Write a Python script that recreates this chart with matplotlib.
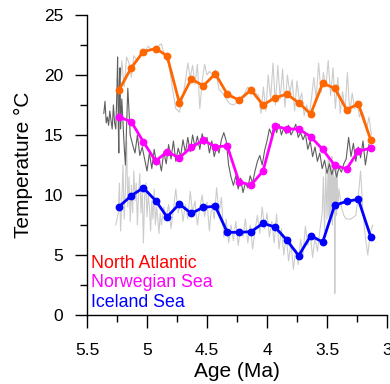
import matplotlib
matplotlib.use("Agg")
import matplotlib.pyplot as plt
from matplotlib.ticker import MultipleLocator

plt.rcParams['font.family'] = ['Liberation Sans', 'DejaVu Sans']

# smoothed records (points every ~0.1 Ma)
age_pts = [5.233, 5.131, 5.031, 4.928, 4.833, 4.731, 4.631, 4.531, 4.431, 4.331, 4.233,
           4.133, 4.033, 3.933, 3.836, 3.736, 3.636, 3.536, 3.436, 3.336, 3.239, 3.136]
na_pts = [18.75, 20.6, 21.94, 22.2, 21.6, 17.7, 19.67, 19.1, 20.1, 18.4, 17.9,
          18.75, 17.5, 18.1, 18.4, 17.7, 16.75, 19.3, 18.9, 17.1, 17.6, 14.6]
nw_pts = [16.5, 16.1, 14.44, 12.83, 13.6, 13.1, 13.97, 14.55, 14.03, 14.08, 11.1,
          10.83, 12.0, 15.75, 15.5, 15.5, 14.86, 13.8, 12.47, 12.17, 13.67, 13.89]
ic_pts = [9.03, 9.94, 10.6, 9.53, 8.17, 9.25, 8.47, 8.97, 9.06, 6.89, 6.89,
          6.94, 7.64, 7.33, 6.25, 4.94, 6.61, 6.08, 9.14, 9.47, 9.64, 6.53]

# high resolution records (grey)
na_age = [5.25, 5.23, 5.21, 5.19, 5.17, 5.15, 5.13, 5.11, 5.08, 5.05, 5.02, 4.99, 4.96,
          4.92, 4.88, 4.85, 4.82, 4.79, 4.76, 4.73, 4.70, 4.68, 4.66, 4.64, 4.62, 4.60,
          4.58, 4.56, 4.54, 4.52, 4.50, 4.48, 4.46, 4.43, 4.40, 4.37, 4.34, 4.31, 4.28,
          4.25, 4.22, 4.19, 4.16, 4.13, 4.10, 4.07, 4.05, 4.03, 4.01, 3.99, 3.97, 3.95,
          3.93, 3.91, 3.89, 3.87, 3.85, 3.83, 3.81, 3.79, 3.77, 3.75, 3.73, 3.71, 3.69,
          3.67, 3.65, 3.63, 3.61, 3.59, 3.57, 3.55, 3.53, 3.51, 3.49, 3.47, 3.45, 3.43,
          3.41, 3.39, 3.37, 3.35, 3.33, 3.31, 3.29, 3.27, 3.25, 3.23, 3.21, 3.19, 3.17,
          3.15, 3.13]
na_t = [19.6, 18.0, 21.2, 19.0, 21.5, 21.0, 19.8, 21.6, 21.2, 22.0, 21.9, 22.4, 22.1,
        22.3, 22.6, 21.4, 21.0, 19.0, 17.2, 16.9, 18.2, 19.5, 21.0, 19.8, 20.8, 19.2,
        20.9, 17.2, 19.5, 20.9, 20.0, 20.3, 20.1, 20.4, 18.8, 18.5, 18.0, 17.6, 17.5,
        17.7, 18.0, 18.4, 19.0, 18.6, 18.5, 18.3, 16.8, 19.0, 17.0, 20.0, 18.0, 21.0,
        17.5, 20.8, 18.0, 20.5, 17.3, 20.0, 18.5, 19.6, 17.0, 19.5, 17.8, 18.5, 16.6,
        17.5, 16.5, 18.0, 19.8, 18.0, 21.0, 18.5, 20.2, 19.0, 21.2, 18.3, 20.6, 17.2,
        19.8, 16.8, 18.6, 17.0, 20.2, 16.8, 18.5, 17.2, 17.8, 16.5, 17.0, 16.5, 15.5,
        16.5, 15.0]

nw_age = [5.36, 5.35, 5.34, 5.33, 5.32, 5.31, 5.30, 5.29, 5.28, 5.27, 5.26, 5.25, 5.245,
          5.24, 5.235, 5.23, 5.225, 5.22, 5.21, 5.20, 5.19, 5.18, 5.17, 5.16, 5.15, 5.14,
          5.12, 5.10, 5.08, 5.06, 5.04, 5.02, 5.00, 4.98, 4.96, 4.94, 4.92, 4.90, 4.88,
          4.86, 4.84, 4.82, 4.80, 4.78, 4.76, 4.74, 4.72, 4.70, 4.68, 4.66, 4.64, 4.62,
          4.60, 4.58, 4.56, 4.54, 4.52, 4.50, 4.48, 4.46, 4.44, 4.42, 4.40, 4.38, 4.36,
          4.34, 4.32, 4.30, 4.28, 4.26, 4.24, 4.22, 4.20, 4.18, 4.16, 4.14, 4.12, 4.10,
          4.08, 4.06, 4.04, 4.02, 4.00, 3.98, 3.96, 3.94, 3.92, 3.90, 3.88, 3.86, 3.84,
          3.82, 3.80, 3.78, 3.76, 3.74, 3.72, 3.70, 3.68, 3.66, 3.64, 3.62, 3.60, 3.58,
          3.56, 3.54, 3.52, 3.50, 3.48, 3.46, 3.44, 3.42, 3.40, 3.38, 3.36, 3.34, 3.32,
          3.30, 3.28, 3.26, 3.24, 3.22, 3.20, 3.18, 3.16, 3.15]
nw_t = [16.8, 17.8, 16.0, 16.5, 15.8, 17.0, 16.2, 15.5, 17.5, 16.0, 15.5, 19.0, 21.5,
        16.5, 13.5, 19.5, 20.6, 15.5, 18.0, 16.0, 14.0, 12.5, 15.8, 18.9, 17.0, 15.0,
        14.2, 13.5, 15.0, 13.3, 14.0, 13.0, 12.0, 13.5, 12.2, 13.8, 12.5, 13.0, 12.0,
        13.6, 12.6, 14.2, 13.0, 14.5, 12.8, 13.9, 13.2, 14.6, 13.5, 14.8, 13.6, 15.0,
        14.0, 14.9, 13.8, 15.1, 14.2, 14.8, 13.5, 14.5, 13.2, 14.0, 13.5, 14.6, 15.2,
        14.5, 12.5, 11.5, 10.8, 11.6, 10.5, 11.4, 10.2, 11.0, 10.6, 11.6, 11.0, 12.0,
        12.8, 13.3, 12.5, 13.7, 14.5, 15.5, 15.0, 15.8, 15.2, 15.9, 15.0, 15.6, 15.1,
        15.8, 15.0, 15.4, 15.9, 14.8, 15.2, 14.6, 15.1, 13.8, 14.5, 13.2, 14.0, 12.8,
        13.5, 12.2, 12.9, 11.8, 12.6, 11.7, 12.4, 11.5, 12.3, 11.9, 12.6, 13.0, 14.8,
        13.2, 14.3, 12.8, 14.0, 13.1, 14.5, 12.5, 13.8, 14.2]

ic_age = [5.26, 5.24, 5.23, 5.22, 5.21, 5.20, 5.19, 5.18, 5.17, 5.16, 5.15, 5.14, 5.13,
          5.12, 5.11, 5.10, 5.09, 5.08, 5.07, 5.06, 5.05, 5.04, 5.03, 5.02, 5.01, 5.00,
          4.99, 4.98, 4.97, 4.96, 4.95, 4.94, 4.93, 4.92, 4.91, 4.90, 4.89, 4.88, 4.86,
          4.84, 4.82, 4.80, 4.78, 4.76, 4.74, 4.72, 4.70, 4.68, 4.66, 4.64, 4.62, 4.60,
          4.58, 4.56, 4.54, 4.52, 4.50, 4.48, 4.46, 4.44, 4.42, 4.40, 4.38, 4.36, 4.34,
          4.32, 4.30, 4.28, 4.26, 4.24, 4.22, 4.20, 4.18, 4.16, 4.14, 4.12, 4.10, 4.08,
          4.06, 4.04, 4.02, 4.00, 3.98, 3.96, 3.94, 3.92, 3.90, 3.88, 3.86, 3.84, 3.82,
          3.80, 3.78, 3.76, 3.74, 3.72, 3.70, 3.68, 3.66, 3.64, 3.62, 3.60, 3.58, 3.56,
          3.54, 3.53, 3.52, 3.51, 3.50, 3.49, 3.485, 3.48, 3.475, 3.47, 3.465, 3.46,
          3.455, 3.45, 3.445, 3.44, 3.435, 3.43, 3.425, 3.42, 3.415, 3.41, 3.40, 3.38,
          3.36, 3.34, 3.30, 3.26, 3.24, 3.22, 3.20, 3.18, 3.16, 3.14, 3.12]
ic_t = [7.5, 8.5, 11.0, 7.0, 9.5, 12.5, 8.0, 10.5, 14.5, 9.0, 11.5, 7.8, 10.8,
        8.5, 12.0, 9.5, 11.0, 7.5, 10.2, 11.8, 8.5, 10.5, 6.0, 9.8, 11.0, 8.2,
        10.0, 9.0, 7.0, 9.5, 8.0, 10.5, 7.5, 9.0, 8.0, 6.8, 8.5, 7.5, 9.0,
        8.0, 9.2, 7.2, 8.8, 10.5, 8.5, 9.5, 7.8, 9.2, 8.0, 10.3, 8.5, 9.5,
        7.5, 8.9, 10.0, 8.2, 9.4, 7.0, 9.3, 8.0, 10.6, 8.5, 9.8, 6.5, 8.0,
        6.0, 7.5, 6.2, 7.8, 5.8, 7.2, 6.5, 8.0, 6.0, 7.5, 5.5, 7.0, 8.3,
        6.8, 9.0, 7.2, 8.5, 6.5, 7.8, 6.0, 8.4, 5.5, 7.2, 5.0, 6.6, 4.5,
        6.0, 3.8, 5.5, 4.2, 6.3, 5.0, 7.4, 5.8, 6.8, 4.8, 6.5, 5.3, 7.0,
        8.5, 11.5, 7.0, 12.0, 8.0, 13.0, 8.2, 12.8, 7.8, 12.5, 8.5, 13.2,
        7.5, 12.0, 8.8, 11.5, 1.8, 9.5, 12.6, 8.3, 12.0, 8.8, 10.5, 9.0,
        8.3, 8.0, 8.0, 8.3, 9.8, 12.0, 8.5, 6.5, 5.0, 6.8, 7.5]

labels = ['North Atlantic', 'Norwegian Sea', 'Iceland Sea']
label_colors = ['#ff0000', '#ff00ff', '#0000ff']

fig = plt.figure(figsize=(3.9, 3.84), dpi=100)
ax = fig.add_axes([0.2231, 0.1797, 0.7692, 0.7813])

ax.plot(na_age, na_t, color='#cccccc', lw=0.8, zorder=1)
ax.plot(ic_age, ic_t, color='#cccccc', lw=0.8, zorder=1)
ax.plot(nw_age, nw_t, color='#5f5f5f', lw=0.8, zorder=2)

ax.plot(age_pts, na_pts, color='#ff6600', lw=2.0, marker='o', ms=4.6, zorder=5)
ax.plot(age_pts, nw_pts, color='#ff00ff', lw=2.0, marker='o', ms=4.6, zorder=5)
ax.plot(age_pts, ic_pts, color='#0000ff', lw=2.0, marker='o', ms=4.6, zorder=5)

for i, (lab, col) in enumerate(zip(labels, label_colors)):
    ax.text(5.467, 4.3 - i * 1.62, lab, color=col, fontsize=12.8, va='center', ha='left')

ax.set_xlim(5.5, 3.0)
ax.set_ylim(0, 25)
ax.xaxis.set_major_locator(MultipleLocator(0.5))
ax.xaxis.set_minor_locator(MultipleLocator(0.25))
ax.yaxis.set_major_locator(MultipleLocator(5))
ax.yaxis.set_minor_locator(MultipleLocator(2.5))
ax.set_xticks([5.5, 5, 4.5, 4, 3.5, 3])
ax.set_xticklabels(['5.5', '5', '4.5', '4', '3.5', '3'])

for s in ['top', 'right']:
    ax.spines[s].set_visible(False)
for s in ['left', 'bottom']:
    ax.spines[s].set_linewidth(1.0)
ax.tick_params(which='major', length=9, width=1.0, labelsize=12.5)
ax.tick_params(which='minor', length=5, width=1.0)
ax.tick_params(axis='x', which='major', pad=11)
ax.tick_params(axis='y', which='major', pad=8)

ax.set_xlabel('Age (Ma)', fontsize=15, labelpad=3)
ax.set_ylabel('Temperature °C', fontsize=15, labelpad=8)

fig.savefig('out.png', dpi=100)
